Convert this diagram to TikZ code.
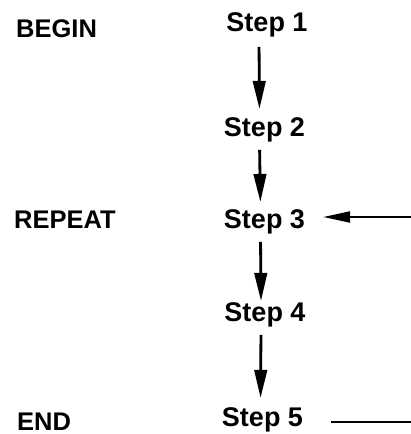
\documentclass[tikz,border=0pt]{standalone}
\usepackage{fontspec}
\setmainfont{Liberation Sans}
\usetikzlibrary{arrows.meta}
\begin{document}
\begin{tikzpicture}[x=1pt,y=1pt,
  stepbox/.style={font=\bfseries\fontsize{27}{30}\selectfont, inner sep=0pt, anchor=base},
  phase/.style={font=\bfseries\fontsize{25.5}{28}\selectfont, inner sep=0pt, anchor=base west},
  flow/.style={line width=2.8pt, -{Triangle[length=28pt,width=12.5pt]}},
  back/.style={line width=2.2pt, -{Triangle[length=27pt,width=11pt]}},
  tail/.style={line width=1.6pt}]
\useasboundingbox (0,0) rectangle (411,434);

% the five steps
\node[stepbox] (s1) at (267,402) {Step 1};
\node[stepbox] (s2) at (264.5,297) {Step 2};
\node[stepbox] (s3) at (264.5,205) {Step 3};
\node[stepbox] (s4) at (265,112) {Step 4};
\node[stepbox] (s5) at (262.5,8) {Step 5};

% phase labels on the left
\node[phase] (begin)  at (16,396) {BEGIN};
\node[phase] (repeat) at (14,205) {REPEAT};
\node[phase] (end)    at (17,4)  {END};

% downward flow between steps
\draw[flow, shorten <=9pt, shorten >=9pt] ([xshift=-8pt]s1.south) -- ([xshift=-5pt]s2.north);
\draw[flow, shorten <=7pt, shorten >=8pt] ([xshift=-5pt]s2.south) -- ([xshift=-4pt]s3.north);
\draw[flow, shorten <=7pt, shorten >=2pt] ([xshift=-4pt]s3.south) -- ([xshift=-4pt]s4.north);
\draw[flow, shorten <=7pt, shorten >=9pt] ([xshift=-4pt]s4.south) -- ([xshift=-2pt]s5.north);

% loop back into Step 3 and the exit line from Step 5
\coordinate (loopin) at (411,217);
\coordinate (loopout) at (411,12);
\draw[back, shorten >=18pt] (loopin) -- (loopin -| s3.east);
\draw[tail, shorten <=28pt] (s5.east |- loopout) -- (loopout);
\end{tikzpicture}
\end{document}
